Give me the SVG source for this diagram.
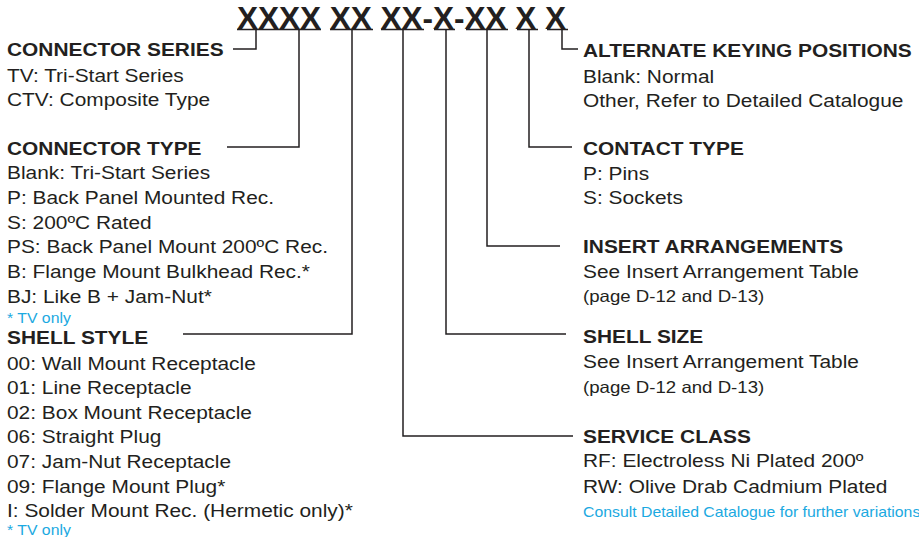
<svg xmlns="http://www.w3.org/2000/svg" width="919" height="537" viewBox="0 0 919 537">
<style>
text{font-family:"Liberation Sans",Arial,sans-serif;fill:#231f20}
.h{font-weight:bold;font-size:18.5px}
.t{font-size:18.5px}
.s{font-size:16.5px}
.b{font-size:14px;fill:#1ba9e1}
.title{font-weight:bold;font-size:31.5px}
.ln{fill:none;stroke:#231f20;stroke-width:1.5}
</style>
<rect width="919" height="537" fill="#ffffff"/>
<g id="title">
<text class="title" x="237" y="29">XXXX XX XX-X-XX X X</text>
</g>
<g id="connectors">
<path class="ln" d="M237 29.5H321M330 29.5H373M381 29.5H424M434 29.5H455M466 29.5H508M517 29.5H538M547 29.5H568"/>
<path class="ln" d="M256 29.5V49H233"/>
<path class="ln" d="M299 29.5V147H227"/>
<path class="ln" d="M352 29.5V334H183"/>
<path class="ln" d="M403 29.5V436H573"/>
<path class="ln" d="M446 29.5V334H566"/>
<path class="ln" d="M487 29.5V246H560"/>
<path class="ln" d="M529 29.5V147H572"/>
<path class="ln" d="M562 29.5V49H578"/>
</g>
<g id="connector-series" transform="translate(7,0) scale(1.13,1)">
<text class="h" x="0" y="56">CONNECTOR SERIES</text>
<text class="t" x="0" y="82">TV: Tri-Start Series</text>
<text class="t" x="0" y="106">CTV: Composite Type</text>
</g>
<g id="connector-type" transform="translate(7,0) scale(1.13,1)">
<text class="h" x="0" y="155">CONNECTOR TYPE</text>
<text class="t" x="0" y="179">Blank: Tri-Start Series</text>
<text class="t" x="0" y="204">P: Back Panel Mounted Rec.</text>
<text class="t" x="0" y="229">S: 200ºC Rated</text>
<text class="t" x="0" y="253">PS: Back Panel Mount 200ºC Rec.</text>
<text class="t" x="0" y="278">B: Flange Mount Bulkhead Rec.*</text>
<text class="t" x="0" y="303">BJ: Like B + Jam-Nut*</text>
<text class="b" x="0" y="323">* TV only</text>
</g>
<g id="shell-style" transform="translate(7,0) scale(1.13,1)">
<text class="h" x="0" y="344">SHELL STYLE</text>
<text class="t" x="0" y="370">00: Wall Mount Receptacle</text>
<text class="t" x="0" y="394">01: Line Receptacle</text>
<text class="t" x="0" y="419">02: Box Mount Receptacle</text>
<text class="t" x="0" y="443">06: Straight Plug</text>
<text class="t" x="0" y="468">07: Jam-Nut Receptacle</text>
<text class="t" x="0" y="493">09: Flange Mount Plug*</text>
<text class="t" x="0" y="517">I: Solder Mount Rec. (Hermetic only)*</text>
<text class="b" x="0" y="535">* TV only</text>
</g>
<g id="alternate-keying" transform="translate(583,0) scale(1.13,1)">
<text class="h" x="0" y="57">ALTERNATE KEYING POSITIONS</text>
<text class="t" x="0" y="83">Blank: Normal</text>
<text class="t" x="0" y="107">Other, Refer to Detailed Catalogue</text>
</g>
<g id="contact-type" transform="translate(583,0) scale(1.13,1)">
<text class="h" x="0" y="155">CONTACT TYPE</text>
<text class="t" x="0" y="180">P: Pins</text>
<text class="t" x="0" y="204">S: Sockets</text>
</g>
<g id="insert-arrangements" transform="translate(583,0) scale(1.13,1)">
<text class="h" x="0" y="253">INSERT ARRANGEMENTS</text>
<text class="t" x="0" y="278">See Insert Arrangement Table</text>
<text class="s" x="0" y="302">(page D-12 and D-13)</text>
</g>
<g id="shell-size" transform="translate(583,0) scale(1.13,1)">
<text class="h" x="0" y="343">SHELL SIZE</text>
<text class="t" x="0" y="368">See Insert Arrangement Table</text>
<text class="s" x="0" y="393">(page D-12 and D-13)</text>
</g>
<g id="service-class" transform="translate(583,0) scale(1.13,1)">
<text class="h" x="0" y="443">SERVICE CLASS</text>
<text class="t" x="0" y="467">RF: Electroless Ni Plated 200º</text>
<text class="t" x="0" y="493">RW: Olive Drab Cadmium Plated</text>
<text class="b" x="0" y="517">Consult Detailed Catalogue for further variations</text>
</g>
</svg>
